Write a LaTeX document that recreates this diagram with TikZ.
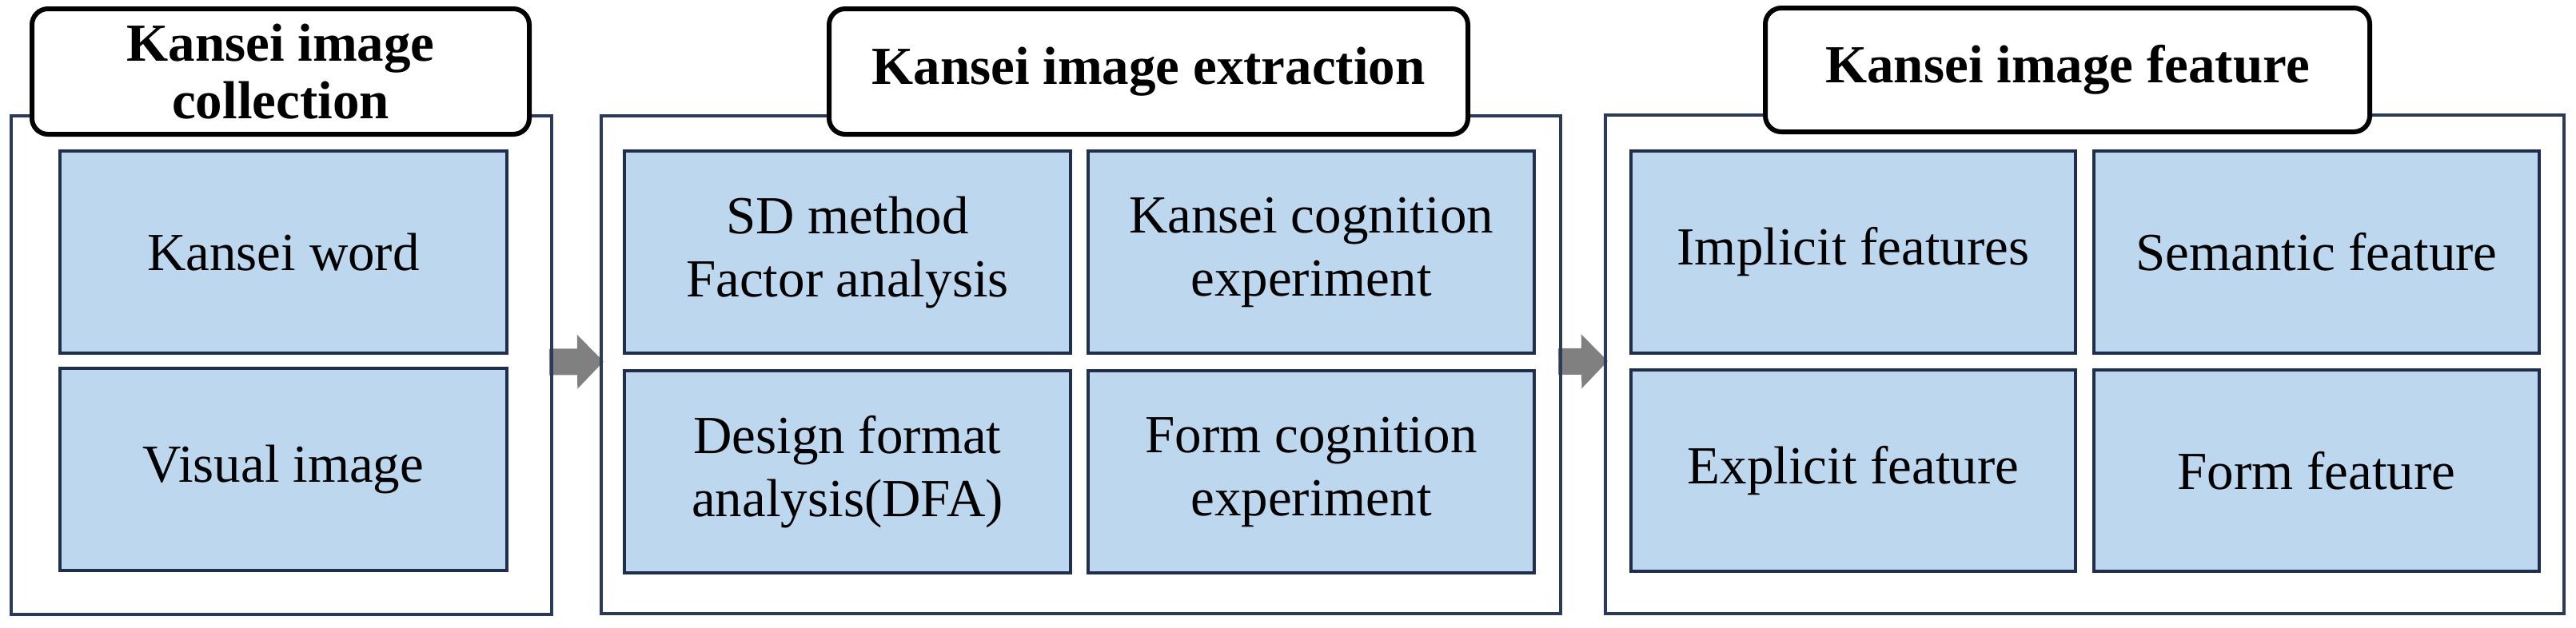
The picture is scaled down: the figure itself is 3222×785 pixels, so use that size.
\documentclass[tikz,border=0pt]{standalone}
\usepackage{fontspec}
\setmainfont{Liberation Serif}
\usetikzlibrary{arrows.meta,backgrounds}
\definecolor{boxfill}{HTML}{BDD7EE}
\definecolor{boxline}{HTML}{1F2E4D}
\definecolor{panelline}{HTML}{2B3A5A}
\definecolor{arrowgray}{HTML}{808080}
\tikzset{
  panel/.style={draw=panelline, line width=1pt, rectangle, outer sep=0pt, inner sep=0pt},
  titlebox/.style={draw=black, fill=white, line width=1.5pt, rounded corners=5pt, outer sep=0pt,
    align=center, font=\fontsize{16.75pt}{18pt}\selectfont\bfseries},
  inbox/.style={draw=boxline, fill=boxfill, line width=1.1pt, outer sep=0pt, align=center,
    font=\fontsize{16.75pt}{19.75pt}\selectfont},
  bigarrow/.style={draw=arrowgray, line width=8.25pt,
    -{Triangle[length=8.25pt, width=16.5pt]}, shorten <=-0.75pt, shorten >=-0.75pt}
}
\begin{document}
\begin{tikzpicture}[x=0.25pt, y=-0.25pt]
\useasboundingbox (0,0) rectangle (3222,785);
% panels
\node[panel, minimum width=169pt, minimum height=156pt] (p1) at (352,457) {};
\node[panel, minimum width=300pt, minimum height=155.75pt] (p2) at (1352,456.5) {};
\node[panel, minimum width=299.75pt, minimum height=156pt] (p3) at (2607.5,456) {};
% titles
\node[titlebox, minimum width=155.5pt, minimum height=39.25pt] (t1) at (351,89.5) {Kansei image\\collection};
\node[titlebox, minimum width=199.75pt, minimum height=39.25pt] (t2) at (1436.5,89.5) {Kansei image extraction};
\node[titlebox, minimum width=189pt, minimum height=38.75pt] (t3) at (2586,87.5) {Kansei image feature};
% panel 1 boxes
\node[inbox, minimum width=139.75pt, minimum height=63.25pt] (a1) at (354.5,315.5) {Kansei word};
\node[inbox, minimum width=139.75pt, minimum height=63.25pt] (a2) at (354.5,587.5) {Visual image};
% panel 2 boxes
\node[inbox, minimum width=139.5pt, minimum height=63.25pt] (b1) at (1060,315.5) {SD method\\Factor analysis};
\node[inbox, minimum width=139.5pt, minimum height=63.25pt] (b2) at (1640,315.5) {Kansei cognition\\experiment};
\node[inbox, minimum width=139.5pt, minimum height=63.25pt] (b3) at (1060,590.5) {Design format\\analysis(DFA)};
\node[inbox, minimum width=139.5pt, minimum height=63.25pt] (b4) at (1640,590.5) {Form cognition\\experiment};
% panel 3 boxes
\node[inbox, minimum width=139pt, minimum height=63.25pt] (c1) at (2318,315.5) {Implicit features};
\node[inbox, minimum width=139.25pt, minimum height=63.25pt] (c2) at (2897.5,315.5) {Semantic feature};
\node[inbox, minimum width=139pt, minimum height=63pt] (c3) at (2318,589) {Explicit feature};
\node[inbox, minimum width=139.25pt, minimum height=63pt] (c4) at (2897.5,589) {Form feature};
% arrows
\begin{scope}[on background layer]
\draw[bigarrow] ([yshift=1pt]p1.east) -- ([yshift=1pt]p2.west);
\draw[bigarrow] ([yshift=1pt]p2.east) -- ([yshift=1pt]p3.west);
\end{scope}
\end{tikzpicture}
\end{document}
